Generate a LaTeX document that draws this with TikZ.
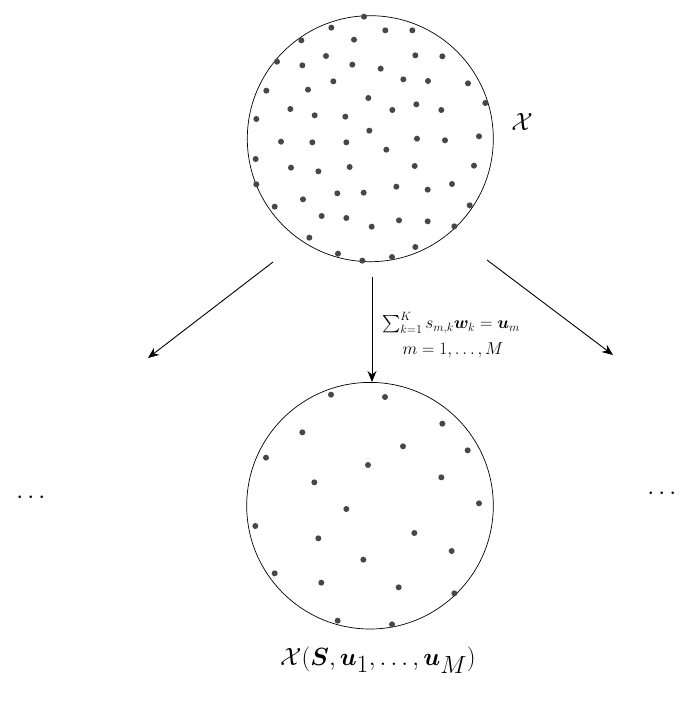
\documentclass[tikz,border=0pt]{standalone}
\usepackage{amsmath,bm}
\usetikzlibrary{arrows.meta}
\begin{document}
\begin{tikzpicture}[x=1pt,y=-1pt,dot/.style={fill=black!72},arr/.style={-{Stealth[length=11pt,width=9pt]},line width=0.9pt}]
\useasboundingbox (0,0) rectangle (692,722);
\node[circle,draw,line width=0.7pt,minimum size=246pt,inner sep=0] (top) at (370.3,138.7) {};
\node[circle,draw,line width=0.7pt,minimum size=246.6pt,inner sep=0] (bot) at (370,505.7) {};
\foreach \a/\b in {357/20,259/53,421/61,502/61,169/91,327/89,96/155,243/138,172/166,322/164,511/136,592/139,407/176,265/214,475/208,549/213,669/220,64/242,189/239,370/264,721/279,136/297,514/283,442/300,589/300,34/327,209/316,301/320,373/362,108/395,202/397,304/397,516/386,600/391,702/379,424/419,32/447,138/473,220/484,314/471,509/468,687/467,34/523,277/550,356/548,454/530,548/539,621/522,174/568,89/590,674/586,230/618,304/624,380/650,462/631,548/634,628/649,193/683,279/731,352/752,441/741,511/711}
  \fill[dot] (245+\a/3,10+\b/3) circle (3);
\foreach \a/\b in {258/44,420/51,592/131,172/157,474/199,668/211,63/233,369/255,589/292,208/307,702/370,304/387,31/438,508/459,220/475,620/513,355/539,89/580,229/608,461/622,628/640,278/722,441/733}
  \fill[dot] (245+\a/3,380+\b/3) circle (3);
\coordinate (l0) at (273,262); \coordinate (l1) at (148,358);
\coordinate (m0) at (372,277); \coordinate (m1) at (372,382);
\coordinate (r0) at (487,260); \coordinate (r1) at (613,355);
\draw[arr] (l0) -- (l1);
\draw[arr] (m0) -- (m1);
\draw[arr] (r0) -- (r1);
\node[font=\fontsize{17}{20}\selectfont,inner sep=0] (lab1) at (451,323) {$\sum_{k=1}^{K} s_{m,k}\bm{w}_k=\bm{u}_m$};
\node[font=\fontsize{17}{20}\selectfont,inner sep=0] (lab2) at (453,350) {$m=1,\ldots,M$};
\node[font=\fontsize{30}{36}\selectfont] (X) at (522,122) {$\mathcal{X}$};
\node[font=\fontsize{36}{42}\selectfont] (XS) at (378,660) {$\mathcal{X}(\bm{S},\bm{u}_1,\ldots,\bm{u}_M)$};
\node[font=\fontsize{34}{40}\selectfont] (dl) at (33,498) {$\cdots$};
\node[font=\fontsize{34}{40}\selectfont] (dr) at (664,494) {$\cdots$};
\end{tikzpicture}
\end{document}
